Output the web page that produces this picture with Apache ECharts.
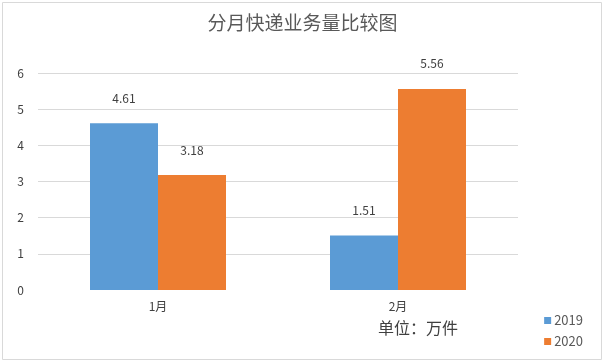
<!DOCTYPE html>
<html><head><meta charset="utf-8">
<script src="https://cdn.jsdelivr.net/npm/echarts@6/dist/echarts.min.js"></script>
<style>html,body{margin:0;padding:0;background:#fff}#c{width:605px;height:363px}</style>
</head><body><div id="c"></div>
<script>
const categories = ['1月', '2月'];
const series2019 = [4.61, 1.51];
const series2020 = [3.18, 5.56];
const yTicks = [0, 1, 2, 3, 4, 5, 6];

const chart = echarts.init(document.getElementById('c'));
const font = '"Noto Sans CJK SC", sans-serif';
const gridColors = yTicks.map((t, i) => i === 0 ? 'rgba(0,0,0,0)' : '#d9d9d9');
chart.setOption({
  animation: false,
  graphic: [{type: 'rect', shape: {x: 2.5, y: 2.5, width: 599, height: 357}, style: {fill: 'none', stroke: '#d9d9d9', lineWidth: 1}, z: -1},
            {type: 'text', left: 378, top: 320, style: {text: '单位：万件', fill: '#404040', font: '16px ' + font}}],
  title: {text: '分月快递业务量比较图', left: 'center', top: 8, textStyle: {fontSize: 19, fontWeight: 'normal', color: '#595959', fontFamily: font}},
  legend: {orient: 'vertical', right: 17, top: 309, itemWidth: 7, itemHeight: 7, itemGap: 8, icon: 'rect',
           textStyle: {fontSize: 13, color: '#595959', fontFamily: font, padding: [0, 0, 0, -2]}},
  grid: {left: 38, right: 87, top: 73, bottom: 73, containLabel: false},
  xAxis: {type: 'category', data: categories, axisTick: {show: false},
          axisLine: {show: false},
          axisLabel: {color: '#404040', fontSize: 12, fontFamily: font, margin: 10}},
  yAxis: {type: 'value', min: yTicks[0], max: yTicks[yTicks.length - 1], interval: 1,
          axisLabel: {color: '#404040', fontSize: 12, fontFamily: font, margin: 14},
          splitLine: {lineStyle: {color: gridColors}}},
  series: [
    {name: '2019', type: 'bar', data: series2019, barWidth: 68, barGap: '0%', itemStyle: {color: '#5B9BD5'},
     label: {show: true, position: 'top', distance: 19, color: '#404040', fontSize: 12, fontFamily: font}},
    {name: '2020', type: 'bar', data: series2020, barWidth: 68, barGap: '0%', itemStyle: {color: '#ED7D31'},
     label: {show: true, position: 'top', distance: 19, color: '#404040', fontSize: 12, fontFamily: font}}
  ]
});
</script></body></html>
